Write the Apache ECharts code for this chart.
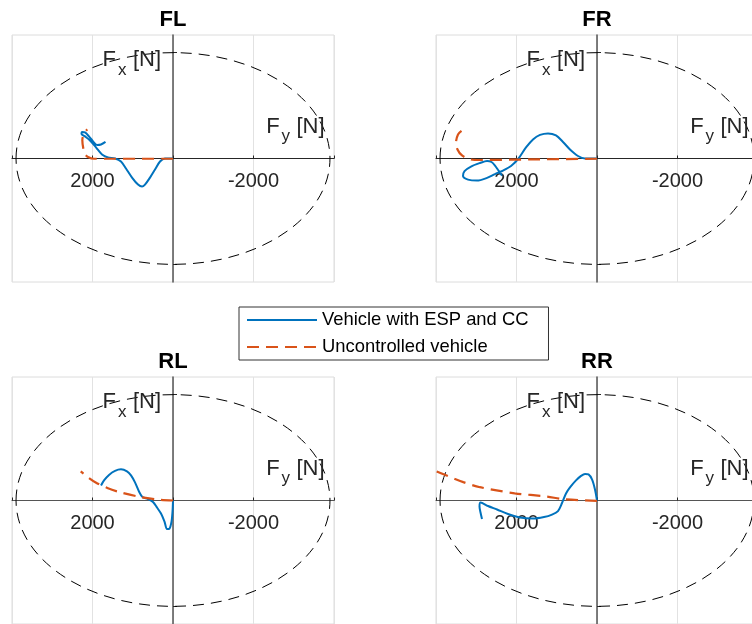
<!DOCTYPE html>
<html><head><meta charset="utf-8">
<script src="https://cdn.jsdelivr.net/npm/echarts@6/dist/echarts.min.js"></script>
<style>html,body{margin:0;padding:0;background:#fff}#c{width:752px;height:624px}</style>
</head><body><div id="c"></div>
<script>
// ---- data (Fy = lateral force [N], Fx = longitudinal force [N]) ----
const wheels = ['FL', 'FR', 'RL', 'RR'];
const seriesNames = ['Vehicle with ESP and CC', 'Uncontrolled vehicle'];
const xTickLabelValues = [2000, -2000];
const yTickValues = [-3900, 3900];
const frictionRadius = [3900, 3900, 3900, 3900];

const flEspFy = [0,199,323,447,571,696,770,869,1018,1168,1292,1441,1615,1764,1913,2062,2186,2273,2260,2186,2087,1987,1888,1789,1677];
const flEspFx = [0,0,-111,-407,-703,-962,-1036,-962,-703,-370,-111,0,37,148,407,666,814,906,980,962,814,629,499,518,610];
const flUncFy = [0,1962,2111,2186,2228,2253,2211,2129];
const flUncFx = [-10,-10,55,160,370,677,925,1073];

const frEspFy = [0,298,472,671,845,1019,1217,1416,1590,1764,1950,2136,2335,2534,2745,2981,3204,3329,3291,3130,2906,2732,2621,2534,2447,2360];
const frEspFx = [0,0,92,333,610,851,925,869,703,407,0,-277,-444,-573,-721,-814,-777,-647,-462,-296,-166,-92,-129,-259,-444,-629];
const frUncFy = [0,1416,2906,3155,3354,3466,3503,3453,3354,3267];
const frUncFx = [-10,-30,-55,-30,111,333,592,888,1036,1110];

const rlEspFy = [0,12,37,87,149,211,298,397,497,621,758,845,944,1043,1143,1292,1441,1590,1714,1788];
const rlEspFx = [0,-407,-777,-1036,-1054,-777,-481,-259,-55,55,129,333,666,925,1073,1147,1091,943,740,555];
const rlUncFy = [0,306,802,1384,1632,1920,2087,2293];
const rlUncFx = [0,26,126,333,459,666,829,1073];

const rrEspFy = [0,50,124,211,298,397,522,671,770,869,969,1118,1317,1590,1913,2211,2484,2708,2894,2919,2894,2857];
const rrEspFx = [0,407,777,962,980,906,740,481,259,-92,-388,-518,-610,-666,-629,-499,-333,-203,-74,-222,-444,-684];
const rrUncFy = [0,840,1249,2045,2906,3321,3999];
const rrUncFx = [-15,50,148,265,490,677,1080];

const espFy = [flEspFy, frEspFy, rlEspFy, rrEspFy];
const espFx = [flEspFx, frEspFx, rlEspFx, rrEspFx];
const uncFy = [flUncFy, frUncFy, rlUncFy, rrUncFy];
const uncFx = [flUncFx, frUncFx, rlUncFx, rrUncFx];

// ---- layout ----
const FONT = "'Liberation Sans', Arial, Helvetica, sans-serif";
const W = 322, H = 247;
const gridPos = [{left: 12, top: 35}, {left: 436, top: 35}, {left: 12, top: 377}, {left: 436, top: 377}];
const zip = (a, b) => a.map((v, i) => [v, b[i]]);

const grids = [], xAxes = [], yAxes = [], series = [], graphics = [];
gridPos.forEach((g, i) => {
  grids.push({left: g.left, top: g.top, width: W, height: H, show: true,
    borderColor: '#dcdcdc', borderWidth: 1, backgroundColor: 'transparent',
    containLabel: false, outerBoundsMode: 'none'});
  const dark = i < 2 ? '#262626' : '#555';
  xAxes.push({gridIndex: i, type: 'value', inverse: true, min: -4000, max: 4000, interval: 2000,
    axisLine: {onZero: true, lineStyle: {color: dark, width: 1}},
    axisTick: {inside: true, length: 3, lineStyle: {color: '#262626'}},
    axisLabel: {fontSize: 20, color: '#262626', fontFamily: FONT, margin: 13 - H / 2,
      formatter: v => xTickLabelValues.includes(v) ? String(v) : ''},
    splitLine: {show: true, lineStyle: {color: '#e2e2e2', width: 1}}});
  yAxes.push({gridIndex: i, type: 'value', min: -4550, max: 4550,
    axisLine: {onZero: true, lineStyle: {color: '#555', width: 1.5}},
    axisTick: {show: true, inside: true, length: 4, customValues: yTickValues, lineStyle: {color: '#262626'}},
    axisLabel: {show: false}, splitLine: {show: false}});
  series.push({type: 'custom', xAxisIndex: i, yAxisIndex: i, silent: true, z: 1,
    data: [[0, 0, frictionRadius[i]]], encode: {x: 0, y: 1},
    renderItem: (params, api) => {
      const c = api.coord([api.value(0), api.value(1)]);
      const s = api.size([api.value(2), api.value(2)], [api.value(0), api.value(1)]);
      return {type: 'ellipse', shape: {cx: c[0], cy: c[1], rx: s[0], ry: s[1]},
        style: {fill: 'none', stroke: '#000', lineWidth: 1, lineDash: [11, 7]}};
    }});
  series.push({type: 'line', name: seriesNames[0], xAxisIndex: i, yAxisIndex: i, z: 2,
    data: zip(espFy[i], espFx[i]), symbol: 'none', showSymbol: false, smooth: 0.3,
    lineStyle: {color: '#0072BD', width: 2}, itemStyle: {color: '#0072BD'}});
  series.push({type: 'line', name: seriesNames[1], xAxisIndex: i, yAxisIndex: i, z: 3,
    data: zip(uncFy[i], uncFx[i]), symbol: 'none', showSymbol: false, smooth: 0.3,
    lineStyle: {color: '#D95319', width: 2.2, type: [12, 7]}, itemStyle: {color: '#D95319'}});

  const cx = g.left + W / 2, cy = g.top + H / 2;
  const txt = (x, y, text, size, align, weight) => ({type: 'text', x: x, y: y, silent: true, z: 10,
    style: {text: text, font: (weight || 'normal') + ' ' + size + 'px ' + FONT, fill: weight ? '#000' : '#262626',
      textAlign: align || 'left', textVerticalAlign: 'middle'}});
  graphics.push(txt(cx, g.top - 15, wheels[i], 22, 'center', 'bold'));
  // F_y [N]
  graphics.push(txt(cx + 93.3, cy - 31.3, 'F', 22));
  graphics.push(txt(cx + 108.5, cy - 21.7, 'y', 17));
  graphics.push(txt(cx + 123.4, cy - 31.3, '[N]', 22));
  // F_x [N]
  graphics.push(txt(cx - 70.4, cy - 98.6, 'F', 22));
  graphics.push(txt(cx - 55.0, cy - 88.3, 'x', 17));
  graphics.push(txt(cx - 40.0, cy - 98.6, '[N]', 22));
});

const chart = echarts.init(document.getElementById('c'), null, {renderer: 'canvas'});
chart.setOption({
  animation: false,
  backgroundColor: '#fff',
  grid: grids, xAxis: xAxes, yAxis: yAxes, series: series,
  legend: {data: seriesNames, orient: 'vertical', left: 239, top: 307,
    itemWidth: 70, itemHeight: 18, itemGap: 9, padding: [4, 20, 4, 7],
    borderColor: '#333', borderWidth: 1, backgroundColor: '#fff',
    itemStyle: {opacity: 0},
    textStyle: {fontSize: 18.4, color: '#000', fontFamily: FONT}},
  graphic: graphics
});
</script></body></html>
